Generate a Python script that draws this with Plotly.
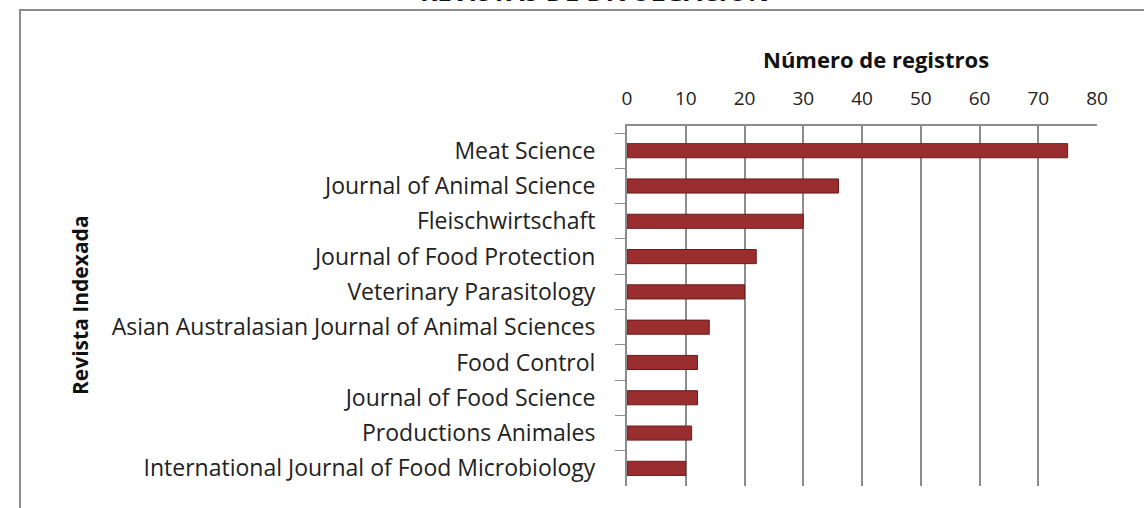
import plotly.graph_objects as go

revistas = [
    "Meat Science",
    "Journal of Animal Science",
    "Fleischwirtschaft",
    "Journal of Food Protection",
    "Veterinary Parasitology",
    "Asian Australasian Journal of Animal Sciences",
    "Food Control",
    "Journal of Food Science",
    "Productions Animales",
    "International Journal of Food Microbiology",
]
registros = [75, 36, 30, 22, 20, 14, 12, 12, 11, 10]
x_ticks = [0, 10, 20, 30, 40, 50, 60, 70, 80]

FONT = "Open Sans"
W, H = 1144, 508
L, R, T, B = 627, 47, 126, 22
pw = W - L - R
ph = H - T - B


def px_x(p):
    return (p - L) / pw


def px_y(p):
    return (H - B - p) / ph


fig = go.Figure()
fig.add_trace(go.Bar(
    y=revistas,
    x=registros,
    orientation="h",
    width=0.4,
    marker=dict(color="#9a2e2e", line=dict(color="#6a1c1c", width=1)),
    hoverinfo="x+y",
))

fig.update_layout(
    width=W, height=H,
    margin=dict(l=L, r=R, t=T, b=B, autoexpand=False),
    paper_bgcolor="white",
    plot_bgcolor="white",
    showlegend=False,
    font=dict(family=FONT, size=20, color="#222222"),
    xaxis=dict(
        side="top",
        range=[0, 80],
        tickvals=x_ticks,
        showgrid=True,
        gridcolor="#8c8c8c",
        gridwidth=2,
        showline=True,
        linecolor="#8c8c8c",
        linewidth=2,
        zeroline=False,
        ticks="",
        ticklabelstandoff=11,
        tickfont=dict(size=19, color="#222222"),
        automargin=False,
    ),
    yaxis=dict(
        type="category",
        categoryorder="array",
        categoryarray=revistas,
        range=[9.5, -0.7],
        showgrid=False,
        showline=True,
        linecolor="#8c8c8c",
        linewidth=2,
        ticks="outside",
        tickson="boundaries",
        ticklen=10,
        tickcolor="#8c8c8c",
        tickwidth=1,
        ticklabelstandoff=25,
        tickfont=dict(size=23, color="#222222"),
        automargin=False,
    ),
    shapes=[
        dict(type="rect", xref="paper", yref="paper",
             x0=px_x(20), x1=px_x(1160), y0=px_y(10), y1=px_y(530),
             line=dict(color="#8c8c8c", width=2), fillcolor="rgba(0,0,0,0)", layer="below"),
    ],
    annotations=[
        dict(text="<b>REVISTAS DE DIVULGACIÓN</b>", xref="paper", yref="paper",
             x=px_x(594), y=px_y(-9), xanchor="center", yanchor="middle",
             showarrow=False, font=dict(family=FONT, size=26, color="#111111")),
        dict(text="<b>Número de registros</b>", xref="paper", yref="paper",
             x=px_x(876), y=px_y(59), xanchor="center", yanchor="middle",
             showarrow=False, font=dict(family=FONT, size=22, color="#111111")),
        dict(text="<b>Revista Indexada</b>", xref="paper", yref="paper",
             x=px_x(80), y=px_y(305), xanchor="center", yanchor="middle",
             textangle=-90, showarrow=False,
             font=dict(family=FONT, size=21, color="#111111")),
    ],
)

fig.write_html("out.html", config={"displayModeBar": False},
               post_script="document.body.style.margin='0px';")
